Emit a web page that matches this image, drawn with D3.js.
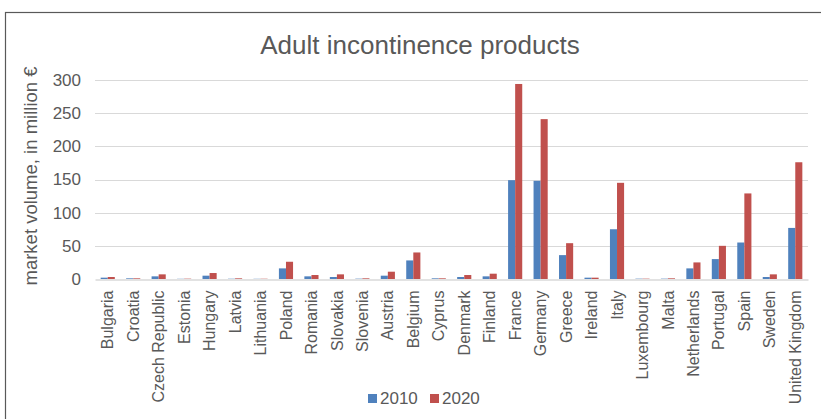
<!DOCTYPE html>
<html>
<head>
<meta charset="utf-8">
<script src="https://cdn.jsdelivr.net/npm/d3@7"></script>
<style>
  body { margin: 0; background: #fff; }
  text { font-family: "Liberation Sans", Arial, sans-serif; fill: #595959; }
</style>
</head>
<body>
<div id="chart"></div>
<script>
// Countries, in the order shown
const countries = ['Bulgaria', 'Croatia', 'Czech Republic', 'Estonia', 'Hungary', 'Latvia',
  'Lithuania', 'Poland', 'Romania', 'Slovakia', 'Slovenia', 'Austria', 'Belgium', 'Cyprus',
  'Denmark', 'Finland', 'France', 'Germany', 'Greece', 'Ireland', 'Italy', 'Luxembourg',
  'Malta', 'Netherlands', 'Portugal', 'Spain', 'Sweden', 'United Kingdom'];

// market volume, million €
const values2010 = [2, 1, 4, 0.3, 5, 0.4, 0.3, 16, 4, 3, 0.5, 5, 28, 1, 3, 4, 149, 148, 36, 2, 75, 0.5, 0.5, 16, 30, 55, 3, 77];
const values2020 = [3, 1, 7, 0.5, 9, 1, 0.4, 26, 6, 7, 1, 11, 40, 1, 6, 8, 294, 241, 54, 2, 145, 0.5, 1, 25, 50, 129, 7, 176];

const yTicks = [0, 50, 100, 150, 200, 250, 300];
const seriesNames = ['2010', '2020'];
const seriesColors = { '2010': '#4F81BD', '2020': '#C0504D' };

let config = {
  w: 821,
  h: 419,
  margin: { top: 80, right: 13, bottom: 140, left: 95 },
};

let svg = d3
  .select('#chart')
  .append('svg')
  .attr('width', config.w)
  .attr('height', config.h);

// Chart border
svg
  .append('rect')
  .attr('x', 5.5)
  .attr('y', 12.5)
  .attr('width', 840)
  .attr('height', 440)
  .style('fill', 'none')
  .style('stroke', '#595959')
  .style('stroke-width', 1.2);

let x = d3
  .scaleBand()
  .domain(countries)
  .range([config.margin.left, config.w - config.margin.right]);

let xSeries = d3
  .scaleBand()
  .domain(seriesNames)
  .range([0, x.bandwidth()])
  .paddingInner(0)
  .paddingOuter(0.8);

let y = d3
  .scaleLinear()
  .domain([0, 300])
  .range([279, 80]);

// Gridlines
svg
  .append('g')
  .selectAll('line')
  .data(yTicks.filter((d) => d > 0))
  .enter()
  .append('line')
  .attr('x1', config.margin.left)
  .attr('x2', config.w - config.margin.right)
  .attr('y1', (d) => Math.round(y(d)) + 0.5)
  .attr('y2', (d) => Math.round(y(d)) + 0.5)
  .style('stroke', '#D9D9D9')
  .style('stroke-width', 1);

// Y axis labels
let yAxis = svg
  .append('g')
  .attr('transform', 'translate(' + (config.margin.left - 8) + ',0)')
  .call(d3.axisLeft(y).tickValues(yTicks).tickSize(0).tickPadding(6));
yAxis.select('.domain').remove();
yAxis.selectAll('text').style('font-size', '17px').style('fill', '#595959')
  .style('font-family', '"Liberation Sans", Arial, sans-serif');

// Bars
let groups = svg
  .append('g')
  .selectAll('g')
  .data(countries)
  .enter()
  .append('g')
  .attr('transform', (d) => 'translate(' + x(d) + ',0)');

groups
  .selectAll('rect')
  .data((d, i) => [
    { s: '2010', v: values2010[i] },
    { s: '2020', v: values2020[i] },
  ])
  .enter()
  .append('rect')
  .attr('x', (d) => xSeries(d.s))
  .attr('width', xSeries.bandwidth())
  .attr('y', (d) => y(d.v))
  .attr('height', (d) => y(0) - y(d.v))
  .style('fill', (d) => seriesColors[d.s]);

// X axis
let xAxis = svg
  .append('g')
  .attr('transform', 'translate(0,' + (Math.round(y(0)) + 0.5) + ')')
  .call(d3.axisBottom(x).tickSize(0).tickPadding(0));
xAxis.select('.domain').style('stroke', '#D9D9D9').style('stroke-width', 1.3);
xAxis
  .selectAll('text')
  .attr('transform', 'rotate(-90)')
  .attr('x', -11)
  .attr('y', 0)
  .attr('dy', '0.35em')
  .attr('text-anchor', 'end')
  .style('font-size', '16px')
  .style('fill', '#595959')
  .style('font-family', '"Liberation Sans", Arial, sans-serif');

// Title
svg
  .append('text')
  .attr('x', 420)
  .attr('y', 54)
  .attr('text-anchor', 'middle')
  .style('font-size', '26px')
  .text('Adult incontinence products');

// Y axis title
svg
  .append('text')
  .attr('transform', 'translate(37,176) rotate(-90)')
  .attr('text-anchor', 'middle')
  .style('font-size', '18.5px')
  .text('market volume, in million €');

// Legend
let legend = svg
  .append('g')
  .attr('transform', 'translate(368,398)');

let li = legend
  .selectAll('g')
  .data(seriesNames)
  .enter()
  .append('g')
  .attr('transform', (d, i) => 'translate(' + i * 62 + ',0)');

li
  .append('rect')
  .attr('x', 0)
  .attr('y', -4)
  .attr('width', 9)
  .attr('height', 9)
  .style('fill', (d) => seriesColors[d]);

li
  .append('text')
  .attr('x', 12)
  .attr('y', 0)
  .attr('dy', '0.35em')
  .style('font-size', '17px')
  .text((d) => d);
</script>
</body>
</html>
